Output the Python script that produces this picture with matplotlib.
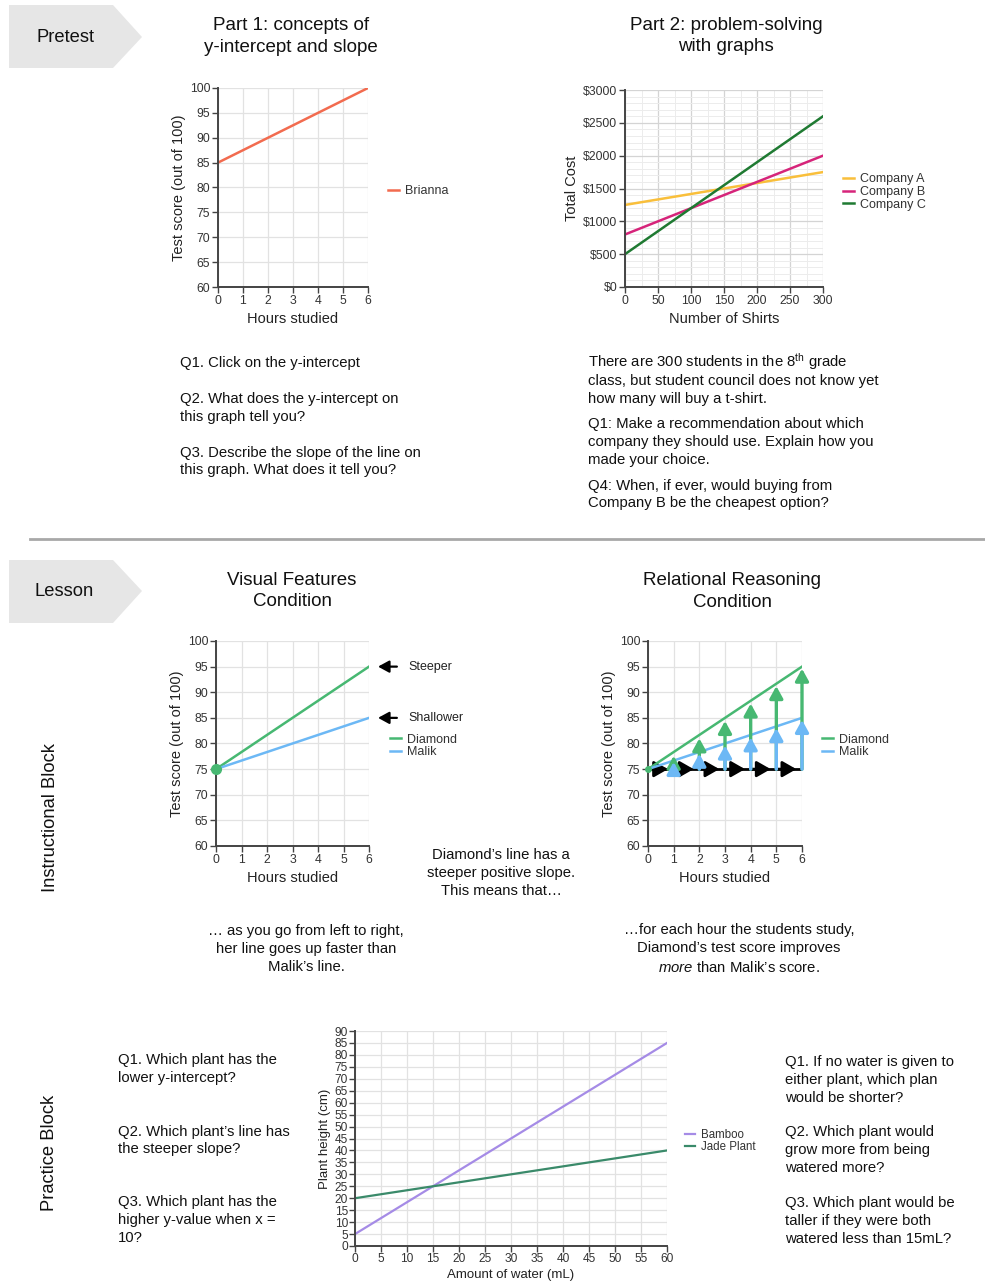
import numpy as np
import matplotlib
matplotlib.use('Agg')
import matplotlib.pyplot as plt
from matplotlib.patches import Polygon
from matplotlib.ticker import MultipleLocator, FuncFormatter

plt.rcParams['font.family'] = ['Liberation Sans', 'DejaVu Sans']
plt.rcParams['mathtext.fontset'] = 'custom'
plt.rcParams['mathtext.rm'] = 'Liberation Sans'
plt.rcParams['mathtext.it'] = 'Liberation Sans:italic'

# ---------------- data ----------------
hours = [0, 6]
brianna = [85, 100]

shirts = [0, 300]
company_a = [1250, 1750]
company_b = [800, 2000]
company_c = [500, 2600]

diamond = [75, 95]
malik = [75, 85]
arrow_hours = [1, 2, 3, 4, 5, 6]
diamond_arrow_tops = [77.6, 81.0, 84.4, 87.8, 91.2, 94.6]
malik_arrow_tops = [76.4, 78.0, 79.6, 81.2, 83.0, 84.6]
baseline_score = 75

water = [0, 60]
bamboo = [5, 85]
jade = [20, 40]

# ---------------- colours ----------------
C_BRIANNA = '#f26b4f'
C_A = '#f9bf3b'
C_B = '#d6247a'
C_C = '#1f7a32'
C_DIAMOND = '#47b872'
C_MALIK = '#6cb8f5'
C_BAMBOO = '#a58be6'
C_JADE = '#3a8a6a'
SPINE = '#444444'
GRID = '#e2e2e2'

W, H = 985, 1281
fig = plt.figure(figsize=(W / 100, H / 100), dpi=100)

bg = fig.add_axes([0, 0, 1, 1], zorder=-1)
bg.set_xlim(0, W)
bg.set_ylim(H, 0)
bg.axis('off')


def ax_px(l, t, r, b):
    return fig.add_axes([l / W, 1 - b / H, (r - l) / W, (b - t) / H])


def style(ax, xlim, ylim, xstep, ystep, xlabel, ylabel, tsize=8.8, lsize=10.5):
    ax.set_xlim(*xlim)
    ax.set_ylim(*ylim)
    ax.xaxis.set_major_locator(MultipleLocator(xstep))
    ax.yaxis.set_major_locator(MultipleLocator(ystep))
    for s in ['top', 'right']:
        ax.spines[s].set_visible(False)
    for s in ['left', 'bottom']:
        ax.spines[s].set_color(SPINE)
        ax.spines[s].set_linewidth(1.4)
    ax.grid(True, color=GRID, lw=0.9)
    ax.set_axisbelow(True)
    ax.tick_params(length=4, width=1, color=SPINE, labelsize=tsize,
                   labelcolor='#333333', pad=1.5)
    ax.set_xlabel(xlabel, fontsize=lsize, color='#222222', labelpad=4)
    ax.set_ylabel(ylabel, fontsize=lsize, color='#222222', labelpad=3)


def legend_at(ax, x, y, size=9):
    return ax.legend(loc='center left', bbox_to_anchor=(x / W, 1 - y / H),
                     bbox_transform=fig.transFigure, frameon=False,
                     borderpad=0, borderaxespad=0, handlelength=0.9,
                     handletextpad=0.5, labelspacing=0.05, fontsize=size,
                     labelcolor='#333333')


TITLE = dict(ha='center', va='center', fontsize=13.5, color='#111111', linespacing=1.38)

# ---------------- Pretest section ----------------
bg.add_patch(Polygon([(9, 5), (113, 5), (142, 37), (113, 68), (9, 68)],
                     closed=True, fc='#e6e6e6', ec='none'))
bg.text(65, 37, 'Pretest', ha='center', va='center', fontsize=13.2, color='#111111')

bg.text(291, 36.5, 'Part 1: concepts of\ny-intercept and slope', **TITLE)
bg.text(726, 36, 'Part 2: problem-solving\nwith graphs', **TITLE)

# Chart 1: Brianna
ax1 = ax_px(218, 88, 368, 287)
ax1.plot(hours, brianna, color=C_BRIANNA, lw=1.8, label='Brianna')
style(ax1, (0, 6), (60, 100), 1, 5, 'Hours studied', 'Test score (out of 100)')
legend_at(ax1, 388, 191)

# Chart 2: companies
ax2 = ax_px(625, 90, 823, 287)
ax2.plot(shirts, company_a, color=C_A, lw=1.8, label='Company A')
ax2.plot(shirts, company_b, color=C_B, lw=1.8, label='Company B')
ax2.plot(shirts, company_c, color=C_C, lw=1.8, label='Company C')
style(ax2, (0, 300), (0, 3000), 50, 500, 'Number of Shirts', 'Total Cost')
ax2.xaxis.set_minor_locator(MultipleLocator(25))
ax2.yaxis.set_minor_locator(MultipleLocator(100))
ax2.grid(True, which='major', color='#d4d4d4', lw=0.9)
ax2.grid(True, which='minor', color='#ececec', lw=0.7)
ax2.tick_params(which='minor', length=0)
ax2.yaxis.set_major_formatter(FuncFormatter(lambda v, p: '$%d' % v))
legend_at(ax2, 843, 192)

body = dict(fontsize=10.7, color='#111111', va='center', ha='left', linespacing=1.36)
bg.text(180, 363, 'Q1. Click on the y-intercept', **body)
bg.text(180, 408, 'Q2. What does the y-intercept on\nthis graph tell you?', **body)
bg.text(180, 461.5, 'Q3. Describe the slope of the line on\nthis graph. What does it tell you?', **body)

line1 = dict(body)
line1['va'] = 'baseline'
bg.text(588, 367, 'There are 300 students in the 8$^{\\mathrm{th}}$ grade', **line1)
bg.text(588, 390, 'class, but student council does not know yet\nhow many will buy a t-shirt.', **body)
bg.text(588, 442, 'Q1: Make a recommendation about which\n'
        'company they should use. Explain how you\nmade your choice.', **body)
bg.text(588, 494.5, 'Q4: When, if ever, would buying from\nCompany B be the cheapest option?', **body)

bg.plot([30, W], [539, 539], color='#a8a8a8', lw=2)

# ---------------- Lesson section ----------------
bg.add_patch(Polygon([(9, 560), (113, 560), (142, 591), (113, 623), (9, 623)],
                     closed=True, fc='#e6e6e6', ec='none'))
bg.text(64, 592, 'Lesson', ha='center', va='center', fontsize=13.2, color='#111111')

bg.text(292, 591, 'Visual Features\nCondition', **TITLE)
bg.text(732, 591.5, 'Relational Reasoning\nCondition', **TITLE)

bg.text(51, 817, 'Instructional Block', rotation=90, ha='center', va='center',
        fontsize=13.2, color='#111111')

# Chart 3: visual features
ax3 = ax_px(216, 641, 369, 846)
ax3.plot(hours, diamond, color=C_DIAMOND, lw=1.8, label='Diamond')
ax3.plot(hours, malik, color=C_MALIK, lw=1.8, label='Malik')
ax3.plot(hours[0], diamond[0], 'o', color=C_DIAMOND, ms=7, clip_on=False, zorder=5)
style(ax3, (0, 6), (60, 100), 1, 5, 'Hours studied', 'Test score (out of 100)')
legend_at(ax3, 390, 746)
arr = dict(arrowstyle='-|>,head_length=0.55,head_width=0.3', color='black',
           lw=1.6, mutation_scale=12)
ax3.annotate('Steeper', xy=(hours[1], diamond[1]), xytext=(39, 0),
             textcoords='offset pixels', va='center', ha='left', fontsize=9,
             color='#222222', arrowprops=dict(shrinkA=6, shrinkB=6.5, **arr))
ax3.annotate('Shallower', xy=(hours[1], malik[1]), xytext=(39, 0),
             textcoords='offset pixels', va='center', ha='left', fontsize=9,
             color='#222222', arrowprops=dict(shrinkA=6, shrinkB=6.5, **arr))

# Chart 4: relational reasoning
ax4 = ax_px(648, 641, 802, 846)
ax4.plot(hours, diamond, color=C_DIAMOND, lw=1.8, label='Diamond', zorder=3)
ax4.plot(hours, malik, color=C_MALIK, lw=1.8, label='Malik', zorder=3)
style(ax4, (0, 6), (60, 100), 1, 5, 'Hours studied', 'Test score (out of 100)')
legend_at(ax4, 822, 746)
ax4.plot(hours, [baseline_score, baseline_score], color='black', lw=2, zorder=2)
for h in arrow_hours:
    ax4.annotate('', xy=(h - 0.22, baseline_score), xytext=(h - 1, baseline_score),
                 arrowprops=dict(arrowstyle='-|>,head_length=0.7,head_width=0.4',
                                 color='black', lw=2, shrinkA=0, shrinkB=0,
                                 mutation_scale=12), zorder=2)
for h, top in zip(arrow_hours, diamond_arrow_tops):
    ax4.annotate('', xy=(h, top), xytext=(h, baseline_score),
                 arrowprops=dict(arrowstyle='-|>,head_length=0.6,head_width=0.33',
                                 color=C_DIAMOND, lw=2.4, shrinkA=0, shrinkB=0,
                                 mutation_scale=12), zorder=4)
for h, top in zip(arrow_hours, malik_arrow_tops):
    ax4.annotate('', xy=(h, top), xytext=(h, baseline_score),
                 arrowprops=dict(arrowstyle='-|>,head_length=0.6,head_width=0.33',
                                 color=C_MALIK, lw=2.4, shrinkA=0, shrinkB=0,
                                 mutation_scale=12), zorder=5)
ax4.plot(hours[0], diamond[0], 'o', color=C_DIAMOND, ms=4, clip_on=False, zorder=6)

cbody = dict(fontsize=10.7, color='#111111', va='center', ha='center',
             multialignment='center', linespacing=1.36)
bg.text(501, 873, 'Diamond\u2019s line has a\nsteeper positive slope.\nThis means that\u2026', **cbody)
bg.text(306, 949, '\u2026 as you go from left to right,\nher line goes up faster than\nMalik\u2019s line.', **cbody)
bg.text(739, 949, '\u2026for each hour the students study,\nDiamond\u2019s test score improves\n'
        '$\\mathit{more}$ than Malik\u2019s score.', **cbody)

# ---------------- Practice block ----------------
bg.text(50, 1153, 'Practice Block', rotation=90, ha='center', va='center',
        fontsize=13.2, color='#111111')

ax5 = ax_px(355, 1031, 667, 1246)
ax5.plot(water, bamboo, color=C_BAMBOO, lw=1.6, label='Bamboo')
ax5.plot(water, jade, color=C_JADE, lw=1.6, label='Jade Plant')
style(ax5, (0, 60), (0, 90), 5, 5, 'Amount of water (mL)', 'Plant height (cm)',
      tsize=8.6, lsize=9.5)
ax5.tick_params(pad=1)
ax5.xaxis.labelpad = 3
ax5.yaxis.labelpad = 3
legend_at(ax5, 685, 1141, size=8.3)

bg.text(118, 1069, 'Q1. Which plant has the\nlower y-intercept?', **body)
bg.text(118, 1140.5, 'Q2. Which plant\u2019s line has\nthe steeper slope?', **body)
bg.text(118, 1220, 'Q3. Which plant has the\nhigher y-value when x =\n10?', **body)

bg.text(785, 1080, 'Q1. If no water is given to\neither plant, which plan\nwould be shorter?', **body)
bg.text(785, 1150, 'Q2. Which plant would\ngrow more from being\nwatered more?', **body)
bg.text(785, 1221, 'Q3. Which plant would be\ntaller if they were both\nwatered less than 15mL?', **body)

fig.savefig('out.png', dpi=100)
